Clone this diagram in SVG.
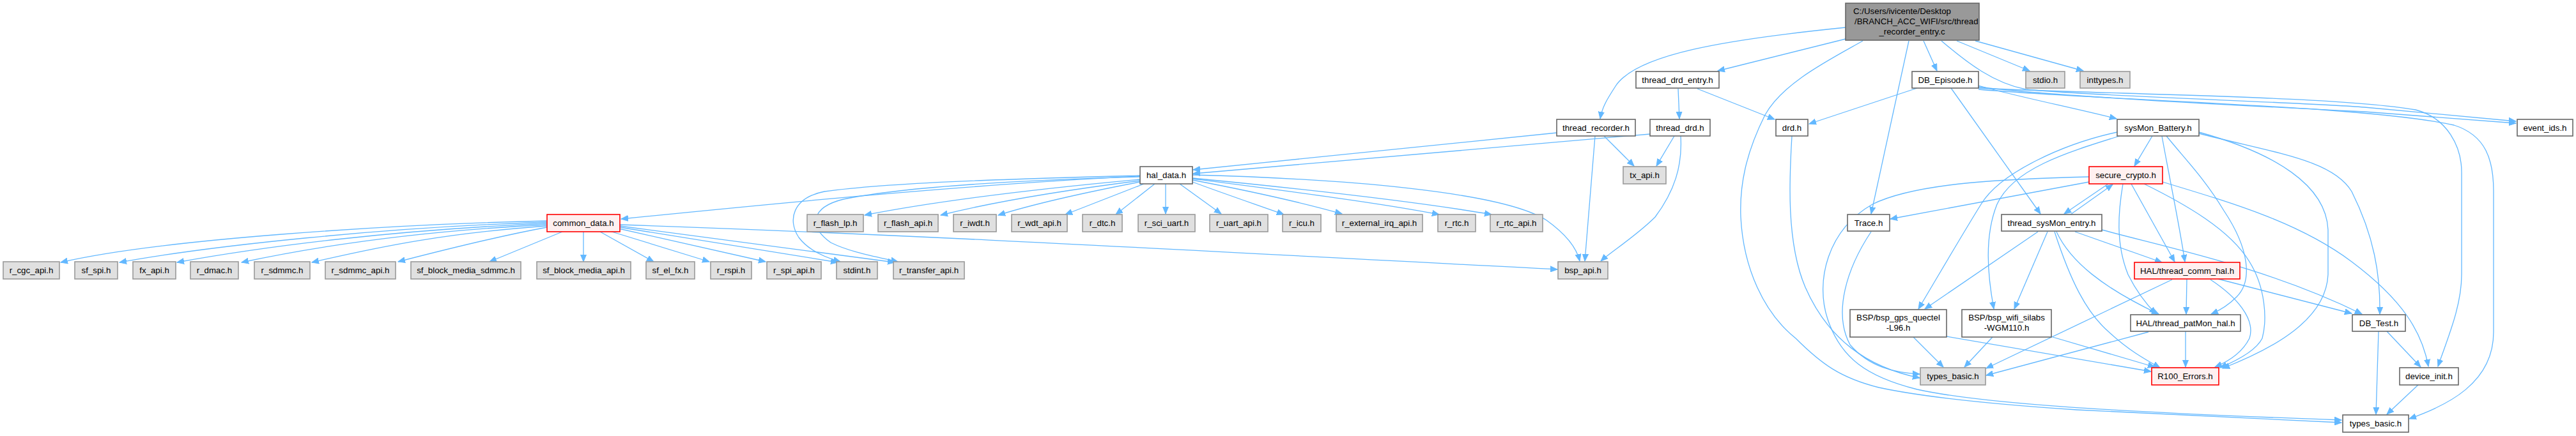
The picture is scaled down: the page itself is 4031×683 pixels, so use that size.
<svg xmlns="http://www.w3.org/2000/svg" width="4031" height="683" viewBox="0 0 4031 683">
<style>
text{font-family:"Liberation Sans",Arial,sans-serif;font-size:13.3px;fill:#000;text-anchor:middle}
.w rect{fill:#fff;stroke:#666;stroke-width:1.6}
.g rect{fill:#e0e0e0;stroke:#999;stroke-width:1.6}
.r rect{fill:#fff0f0;stroke:#f00;stroke-width:1.6}
.root rect{fill:#999;stroke:#666;stroke-width:1.6}
.st{text-anchor:start}
#edges path{fill:none;stroke:#63b8ff;stroke-width:1.3;marker-end:url(#a)}
</style>
<defs>
<marker id="a" markerWidth="12" markerHeight="10" refX="11" refY="5" orient="auto" markerUnits="userSpaceOnUse"><path d="M0,0.5 L11,5 L0,9.5 z" fill="#63b8ff" stroke="#63b8ff" stroke-width="1"/></marker>
</defs>
<rect width="4031" height="683" fill="#fff"/>
<g id="edges">
<path d="M2888,43 C2700,62 2560,85 2528,135 C2515,155 2507,168 2504,186"/>
<path d="M2888,61 L2688,111"/>
<path d="M2987,64 L2928,335"/>
<path d="M3010,64 L3031,111"/>
<path d="M3062,64 L3176,111"/>
<path d="M3091,64 L3260,111"/>
<path d="M2915,64 C2860,95 2790,130 2762,180 C2732,240 2722,290 2724,340 C2728,420 2760,490 2810,530 C2850,570 2880,592 2940,607 C3000,620 3100,632 3250,642 L3664,662"/>
<path d="M3038,64 C3080,100 3120,130 3170,140 C3260,150 3600,160 3700,168 L3937,190"/>
<path d="M3000,138 L2831,194"/>
<path d="M3053,138 L3193,335"/>
<path d="M3096,134 C3150,150 3250,170 3312,186"/>
<path d="M3096,136 C3200,150 3500,165 3700,175 L3937,193"/>
<path d="M3096,138 C3300,148 3650,150 3780,172 C3830,185 3852,230 3852,270 L3852,430 C3852,480 3830,530 3815,574"/>
<path d="M3096,140 C3300,158 3700,165 3840,196 C3890,212 3902,250 3902,300 L3902,520 C3902,600 3830,635 3770,656"/>
<path d="M2626,139 L2628,186"/>
<path d="M2656,139 L2777,187"/>
<path d="M2436,208 L1867,266"/>
<path d="M2510,213 L2557,260"/>
<path d="M2496,213 L2480,409"/>
<path d="M2582,210 L1867,272"/>
<path d="M2620,213 L2592,260"/>
<path d="M2630,213 C2633,260 2620,300 2590,340 C2560,370 2520,395 2505,409"/>
<path d="M2804,213 C2800,280 2795,380 2825,450 C2860,530 2920,575 3004,592"/>
<path d="M2928,363 C2890,420 2868,490 2895,540 C2925,575 2965,584 3004,586"/>
<path d="M3269,285 L2958,343"/>
<path d="M3269,277 C3150,280 3000,285 2930,320 C2860,360 2840,440 2860,500 C2880,560 2920,590 3000,610 C3100,632 3300,645 3664,658"/>
<path d="M3299,288 L3230,335"/>
<path d="M3322,288 C3315,330 3310,380 3330,430 C3345,460 3360,478 3374,492"/>
<path d="M3335,288 L3403,410"/>
<path d="M3355,288 C3420,320 3490,360 3520,410 C3545,450 3548,500 3540,530 C3530,550 3500,565 3474,576"/>
<path d="M3384,285 C3500,320 3600,350 3680,410 C3760,470 3790,520 3800,574"/>
<path d="M3240,336 L3306,289"/>
<path d="M3189,363 L3012,484"/>
<path d="M3204,363 L3152,484"/>
<path d="M3215,363 C3240,440 3265,490 3300,520 C3330,548 3355,562 3380,576"/>
<path d="M3218,363 C3240,410 3290,450 3378,492"/>
<path d="M3247,363 L3383,411"/>
<path d="M3289,360 C3400,390 3550,420 3696,492"/>
<path d="M3368,213 L3340,260"/>
<path d="M3313,207 C3230,225 3130,270 3100,320 C3075,360 3040,420 3002,484"/>
<path d="M3317,213 C3230,240 3150,265 3125,320 C3105,370 3110,430 3120,484"/>
<path d="M3383,213 C3395,280 3410,350 3419,410"/>
<path d="M3390,213 C3420,250 3450,280 3480,330 C3520,390 3525,440 3500,465 C3485,480 3472,487 3460,492"/>
<path d="M3441,207 C3560,240 3640,290 3643,360 L3643,430 C3640,500 3560,545 3478,577"/>
<path d="M3441,209 C3560,240 3650,250 3680,300 C3715,370 3725,430 3724,492"/>
<path d="M3422,437 L3421,492"/>
<path d="M3459,438 C3500,465 3530,500 3520,530 C3510,550 3490,565 3466,575"/>
<path d="M3471,437 L3680,491"/>
<path d="M3399,438 L3108,577"/>
<path d="M3420,519 L3420,575"/>
<path d="M3362,520 L3108,588"/>
<path d="M3118,528 L3074,575"/>
<path d="M3212,528 L3372,575"/>
<path d="M2994,528 L3041,575"/>
<path d="M3046,527 L3366,582"/>
<path d="M3722,519 L3718,649"/>
<path d="M3735,519 L3788,575"/>
<path d="M3785,602 L3735,649"/>
<path d="M1784,281 C1600,298 1450,318 1353,337"/>
<path d="M1784,283 C1650,300 1540,320 1472,337"/>
<path d="M1784,285 C1680,305 1610,322 1562,337"/>
<path d="M1790,288 L1667,336"/>
<path d="M1807,288 L1746,336"/>
<path d="M1824,288 L1824,335"/>
<path d="M1846,288 L1911,335"/>
<path d="M1866,285 C1920,305 1970,322 2009,336"/>
<path d="M1866,282 C1960,300 2040,318 2100,335"/>
<path d="M1866,280 C2020,300 2160,318 2252,336"/>
<path d="M1866,279 C2060,298 2230,318 2334,336"/>
<path d="M1784,276 C1500,290 1200,320 972,343"/>
<path d="M1784,275 C1600,280 1400,285 1290,300 C1240,310 1232,345 1250,372 C1265,392 1290,403 1315,410"/>
<path d="M1784,277 C1600,282 1420,292 1320,312 C1268,325 1265,355 1300,380 C1330,395 1370,402 1405,410"/>
<path d="M1866,274 C2100,280 2350,300 2420,345 C2455,370 2468,392 2472,409"/>
<path d="M856,346 C600,352 250,375 95,411"/>
<path d="M856,348 C600,356 330,385 187,411"/>
<path d="M856,350 C620,360 420,385 277,411"/>
<path d="M856,352 C650,362 500,385 378,411"/>
<path d="M856,354 C700,365 600,385 488,411"/>
<path d="M856,356 C780,370 700,390 623,410"/>
<path d="M880,363 L766,410"/>
<path d="M913,363 L913,410"/>
<path d="M939,363 L1023,410"/>
<path d="M954,362 L1110,410"/>
<path d="M968,358 L1198,410"/>
<path d="M970,356 L1311,411"/>
<path d="M970,354 L1400,411"/>
<path d="M970,352 C1500,370 2000,400 2437,422"/>
</g>
<g id="n_root" class="root"><rect x="2888" y="5" width="209" height="58"/><text class="st" x="2900" y="22">C:/Users/ivicente/Desktop</text><text class="st" x="2902" y="38">/BRANCH_ACC_WIFI/src/thread</text><text x="2992" y="54">_recorder_entry.c</text></g>
<g id="n_thread_drd_entry" class="w"><rect x="2560" y="112" width="130" height="26"/><text x="2625" y="130">thread_drd_entry.h</text></g>
<g id="n_DB_Episode" class="w"><rect x="2992" y="112" width="104" height="26"/><text x="3044" y="130">DB_Episode.h</text></g>
<g id="n_stdio" class="g"><rect x="3170" y="112" width="61" height="26"/><text x="3200.5" y="130">stdio.h</text></g>
<g id="n_inttypes" class="g"><rect x="3255" y="112" width="78" height="26"/><text x="3294" y="130">inttypes.h</text></g>
<g id="n_thread_recorder" class="w"><rect x="2436" y="187" width="123" height="26"/><text x="2497.5" y="205">thread_recorder.h</text></g>
<g id="n_thread_drd" class="w"><rect x="2582" y="187" width="94" height="26"/><text x="2629" y="205">thread_drd.h</text></g>
<g id="n_drd" class="w"><rect x="2779" y="187" width="50" height="26"/><text x="2804" y="205">drd.h</text></g>
<g id="n_sysMon_Battery" class="w"><rect x="3313" y="187" width="128" height="26"/><text x="3377" y="205">sysMon_Battery.h</text></g>
<g id="n_event_ids" class="w"><rect x="3939" y="187" width="87" height="26"/><text x="3982.5" y="205">event_ids.h</text></g>
<g id="n_hal_data" class="w"><rect x="1784" y="261" width="82" height="27"/><text x="1825" y="279">hal_data.h</text></g>
<g id="n_tx_api" class="g"><rect x="2540" y="261" width="67" height="27"/><text x="2573.5" y="279">tx_api.h</text></g>
<g id="n_secure_crypto" class="r"><rect x="3269" y="261" width="115" height="27"/><text x="3326.5" y="279">secure_crypto.h</text></g>
<g id="n_common_data" class="r"><rect x="856" y="336" width="114" height="27"/><text x="913" y="354">common_data.h</text></g>
<g id="n_r_flash_lp" class="g"><rect x="1263" y="336" width="88" height="27"/><text x="1307" y="354">r_flash_lp.h</text></g>
<g id="n_r_flash_api" class="g"><rect x="1374" y="336" width="94" height="27"/><text x="1421" y="354">r_flash_api.h</text></g>
<g id="n_r_iwdt" class="g"><rect x="1492" y="336" width="67" height="27"/><text x="1525.5" y="354">r_iwdt.h</text></g>
<g id="n_r_wdt_api" class="g"><rect x="1583" y="336" width="87" height="27"/><text x="1626.5" y="354">r_wdt_api.h</text></g>
<g id="n_r_dtc" class="g"><rect x="1694" y="336" width="62" height="27"/><text x="1725" y="354">r_dtc.h</text></g>
<g id="n_r_sci_uart" class="g"><rect x="1781" y="336" width="89" height="27"/><text x="1825.5" y="354">r_sci_uart.h</text></g>
<g id="n_r_uart_api" class="g"><rect x="1893" y="336" width="91" height="27"/><text x="1938.5" y="354">r_uart_api.h</text></g>
<g id="n_r_icu" class="g"><rect x="2007" y="336" width="60" height="27"/><text x="2037" y="354">r_icu.h</text></g>
<g id="n_r_external_irq_api" class="g"><rect x="2091" y="336" width="135" height="27"/><text x="2158.5" y="354">r_external_irq_api.h</text></g>
<g id="n_r_rtc" class="g"><rect x="2250" y="336" width="59" height="27"/><text x="2279.5" y="354">r_rtc.h</text></g>
<g id="n_r_rtc_api" class="g"><rect x="2332" y="336" width="82" height="27"/><text x="2373" y="354">r_rtc_api.h</text></g>
<g id="n_Trace" class="w"><rect x="2891" y="336" width="66" height="26"/><text x="2924" y="354">Trace.h</text></g>
<g id="n_thread_sysMon_entry" class="w"><rect x="3132" y="336" width="157" height="26"/><text x="3210.5" y="354">thread_sysMon_entry.h</text></g>
<g id="n_r_cgc_api" class="g"><rect x="5" y="410" width="88" height="27"/><text x="49" y="428">r_cgc_api.h</text></g>
<g id="n_sf_spi" class="g"><rect x="117" y="410" width="67" height="27"/><text x="150.5" y="428">sf_spi.h</text></g>
<g id="n_fx_api" class="g"><rect x="208" y="410" width="67" height="27"/><text x="241.5" y="428">fx_api.h</text></g>
<g id="n_r_dmac" class="g"><rect x="298" y="410" width="75" height="27"/><text x="335.5" y="428">r_dmac.h</text></g>
<g id="n_r_sdmmc" class="g"><rect x="398" y="410" width="87" height="27"/><text x="441.5" y="428">r_sdmmc.h</text></g>
<g id="n_r_sdmmc_api" class="g"><rect x="509" y="410" width="110" height="27"/><text x="564" y="428">r_sdmmc_api.h</text></g>
<g id="n_sf_block_media_sdmmc" class="g"><rect x="643" y="410" width="172" height="27"/><text x="729" y="428">sf_block_media_sdmmc.h</text></g>
<g id="n_sf_block_media_api" class="g"><rect x="840" y="410" width="147" height="27"/><text x="913.5" y="428">sf_block_media_api.h</text></g>
<g id="n_sf_el_fx" class="g"><rect x="1011" y="410" width="76" height="27"/><text x="1049" y="428">sf_el_fx.h</text></g>
<g id="n_r_rspi" class="g"><rect x="1112" y="410" width="64" height="27"/><text x="1144" y="428">r_rspi.h</text></g>
<g id="n_r_spi_api" class="g"><rect x="1200" y="410" width="85" height="27"/><text x="1242.5" y="428">r_spi_api.h</text></g>
<g id="n_stdint" class="g"><rect x="1309" y="410" width="64" height="27"/><text x="1341" y="428">stdint.h</text></g>
<g id="n_r_transfer_api" class="g"><rect x="1398" y="410" width="111" height="27"/><text x="1453.5" y="428">r_transfer_api.h</text></g>
<g id="n_bsp_api" class="g"><rect x="2438" y="410" width="78" height="27"/><text x="2477" y="428">bsp_api.h</text></g>
<g id="n_thread_comm_hal" class="r"><rect x="3340" y="411" width="165" height="26"/><text x="3422.5" y="429">HAL/thread_comm_hal.h</text></g>
<g id="n_bsp_gps" class="w"><rect x="2895" y="485" width="151" height="43"/><text x="2970.5" y="502">BSP/bsp_gps_quectel</text><text x="2970.5" y="518">-L96.h</text></g>
<g id="n_bsp_wifi" class="w"><rect x="3070" y="485" width="140" height="43"/><text x="3140" y="502">BSP/bsp_wifi_silabs</text><text x="3140" y="518">-WGM110.h</text></g>
<g id="n_thread_patMon_hal" class="w"><rect x="3334" y="493" width="172" height="26"/><text x="3420" y="511">HAL/thread_patMon_hal.h</text></g>
<g id="n_DB_Test" class="w"><rect x="3681" y="493" width="83" height="26"/><text x="3722.5" y="511">DB_Test.h</text></g>
<g id="n_types_basic_g" class="g"><rect x="3005" y="576" width="102" height="27"/><text x="3056" y="594">types_basic.h</text></g>
<g id="n_R100_Errors" class="r"><rect x="3367" y="576" width="105" height="27"/><text x="3419.5" y="594">R100_Errors.h</text></g>
<g id="n_device_init" class="w"><rect x="3755" y="576" width="92" height="27"/><text x="3801" y="594">device_init.h</text></g>
<g id="n_types_basic_w" class="w"><rect x="3666" y="650" width="103" height="27"/><text x="3717.5" y="668">types_basic.h</text></g>
</svg>
